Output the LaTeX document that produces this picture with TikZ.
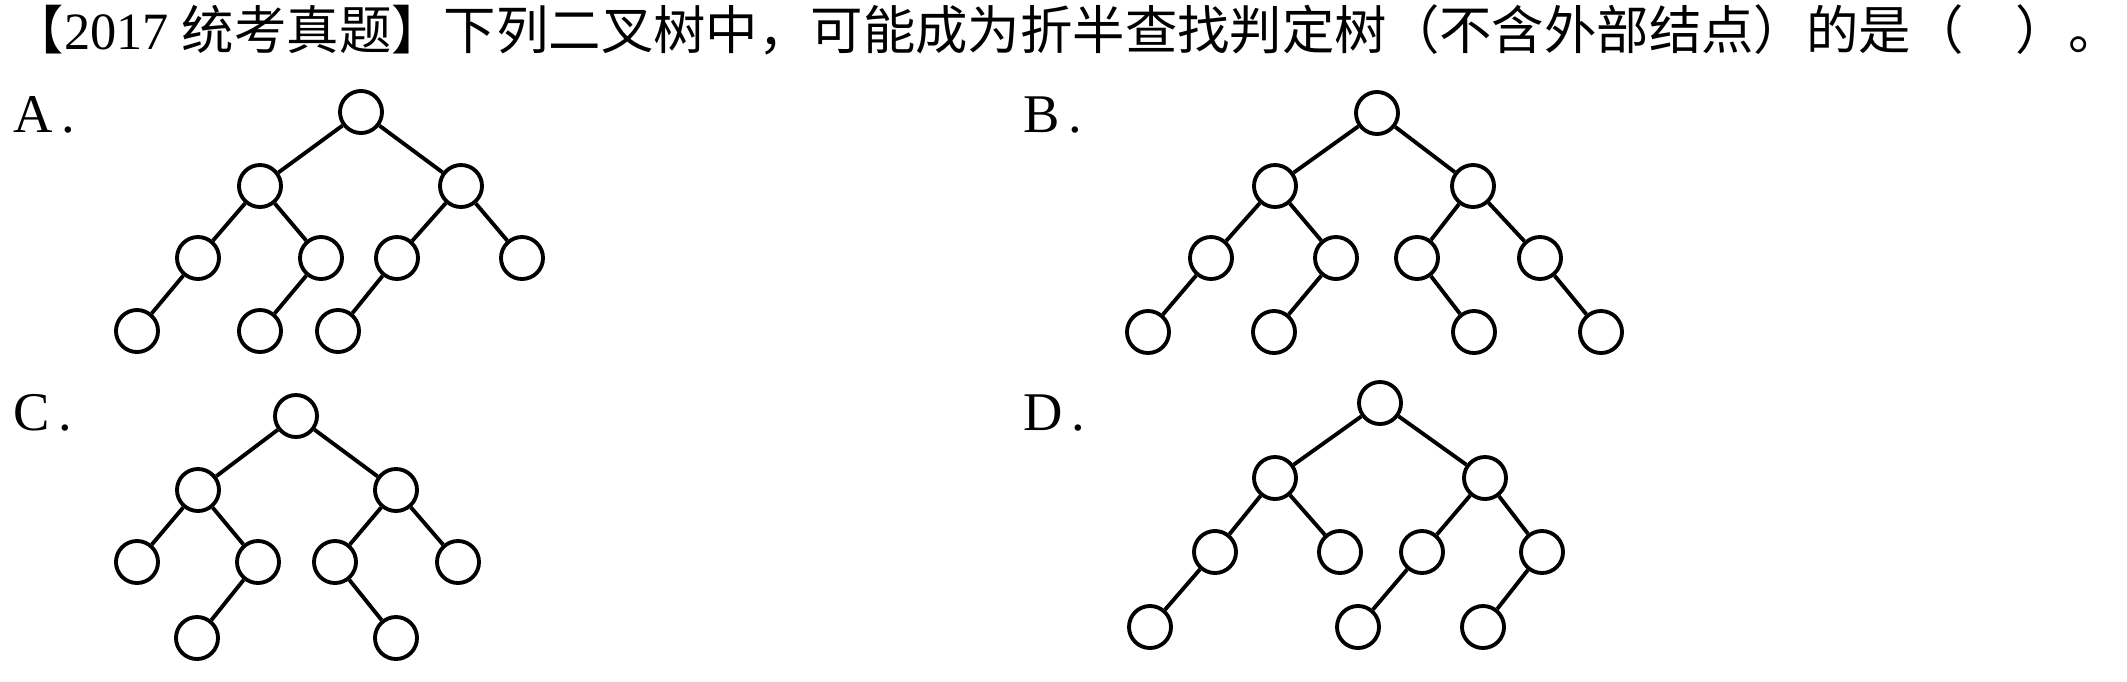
\documentclass[tikz,border=0pt]{standalone}
\usepackage{fontspec}
\setmainfont{Liberation Serif}
\newfontfamily\cjk{Noto Sans CJK SC}
\usetikzlibrary{positioning}

\begin{document}
\begin{tikzpicture}[x=0.01cm, y=-0.01cm, node distance=1mm,
        vertex/.style={draw, circle, line width=1.1pt, minimum size=0.42cm, inner sep=0pt},
        link/.style={line width=1.1pt},
        choice/.style={anchor=base west, inner sep=0pt, font=\fontsize{15.5}{18}\selectfont}]
                \useasboundingbox (0, 0) rectangle (2127, 681);
                \node[anchor=west, inner sep=0pt, font=\fontsize{14.9}{18}\selectfont] (question) at (11, 30)
                    {{\cjk 【}2017 {\cjk 统考真题】下列二叉树中，可能成为折半查找判定树（不含外部结点）的是（\quad ）。}};
                % A
                \node[choice] (labelA) at (13, 132) {A\hspace{0.15em}.};
                \node[vertex] (aRoot) at (361, 112) {};
                \node[vertex] (aL) at (260, 186) {};
                \node[vertex] (aR) at (461, 186) {};
                \node[vertex] (aLL) at (198, 258) {};
                \node[vertex] (aLR) at (321, 258) {};
                \node[vertex] (aRL) at (397, 258) {};
                \node[vertex] (aRR) at (522, 258) {};
                \node[vertex] (aLLL) at (137, 331) {};
                \node[vertex] (aLRL) at (260, 331) {};
                \node[vertex] (aRLL) at (338, 331) {};
                \draw[link] (aRoot) -- (aL);
                \draw[link] (aRoot) -- (aR);
                \draw[link] (aL) -- (aLL);
                \draw[link] (aL) -- (aLR);
                \draw[link] (aR) -- (aRL);
                \draw[link] (aR) -- (aRR);
                \draw[link] (aLL) -- (aLLL);
                \draw[link] (aLR) -- (aLRL);
                \draw[link] (aRL) -- (aRLL);
                % B
                \node[choice] (labelB) at (1023, 132) {B\hspace{0.15em}.};
                \node[vertex] (bRoot) at (1377, 113) {};
                \node[vertex] (bL) at (1275, 186) {};
                \node[vertex] (bR) at (1473, 186) {};
                \node[vertex] (bLL) at (1211, 258) {};
                \node[vertex] (bLR) at (1336, 258) {};
                \node[vertex] (bRL) at (1417, 258) {};
                \node[vertex] (bRR) at (1540, 258) {};
                \node[vertex] (bLLL) at (1148, 332) {};
                \node[vertex] (bLRL) at (1274, 332) {};
                \node[vertex] (bRLR) at (1474, 332) {};
                \node[vertex] (bRRR) at (1601, 332) {};
                \draw[link] (bRoot) -- (bL);
                \draw[link] (bRoot) -- (bR);
                \draw[link] (bL) -- (bLL);
                \draw[link] (bL) -- (bLR);
                \draw[link] (bR) -- (bRL);
                \draw[link] (bR) -- (bRR);
                \draw[link] (bLL) -- (bLLL);
                \draw[link] (bLR) -- (bLRL);
                \draw[link] (bRL) -- (bRLR);
                \draw[link] (bRR) -- (bRRR);
                % C
                \node[choice] (labelC) at (13, 430) {C\hspace{0.15em}.};
                \node[vertex] (cRoot) at (296, 416) {};
                \node[vertex] (cL) at (198, 490) {};
                \node[vertex] (cR) at (396, 490) {};
                \node[vertex] (cLL) at (137, 562) {};
                \node[vertex] (cLR) at (258, 562) {};
                \node[vertex] (cRL) at (335, 562) {};
                \node[vertex] (cRR) at (458, 562) {};
                \node[vertex] (cLRL) at (197, 638) {};
                \node[vertex] (cRLR) at (396, 638) {};
                \draw[link] (cRoot) -- (cL);
                \draw[link] (cRoot) -- (cR);
                \draw[link] (cL) -- (cLL);
                \draw[link] (cL) -- (cLR);
                \draw[link] (cR) -- (cRL);
                \draw[link] (cR) -- (cRR);
                \draw[link] (cLR) -- (cLRL);
                \draw[link] (cRL) -- (cRLR);
                % D
                \node[choice] (labelD) at (1023, 430) {D\hspace{0.15em}.};
                \node[vertex] (dRoot) at (1380, 403) {};
                \node[vertex] (dL) at (1275, 478) {};
                \node[vertex] (dR) at (1485, 478) {};
                \node[vertex] (dLL) at (1215, 552) {};
                \node[vertex] (dLR) at (1340, 552) {};
                \node[vertex] (dRL) at (1422, 552) {};
                \node[vertex] (dRR) at (1542, 552) {};
                \node[vertex] (dLLL) at (1150, 627) {};
                \node[vertex] (dRLL) at (1358, 627) {};
                \node[vertex] (dRRL) at (1483, 627) {};
                \draw[link] (dRoot) -- (dL);
                \draw[link] (dRoot) -- (dR);
                \draw[link] (dL) -- (dLL);
                \draw[link] (dL) -- (dLR);
                \draw[link] (dR) -- (dRL);
                \draw[link] (dR) -- (dRR);
                \draw[link] (dLL) -- (dLLL);
                \draw[link] (dRL) -- (dRLL);
                \draw[link] (dRR) -- (dRRL);
            \end{tikzpicture}
\end{document}
